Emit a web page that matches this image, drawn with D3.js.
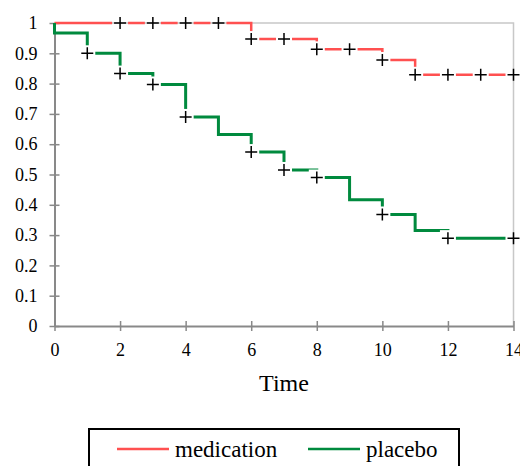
<!DOCTYPE html>
<html lang="en">
<head>
    <meta charset="UTF-8">
    <title>Survival</title>
    <script src="https://d3js.org/d3.v7.min.js"></script>
    <style>
        body { margin: 0; background: #fff; }
    </style>
</head>
<body>
<script>
    // step points (time, survival)
    const medTimes = [0, 6, 8, 10, 11, 14];
    const medSurv = [1, 0.947, 0.913, 0.878, 0.829, 0.829];
    const medCensor = [2, 3, 4, 5, 6, 7, 8, 9, 10, 11, 12, 13, 14];

    const plaTimes = [0, 0, 1, 2, 3, 4, 5, 6, 7, 8, 9, 10, 11, 12, 14];
    const plaSurv = [1, 0.967, 0.9, 0.833, 0.797, 0.69, 0.632, 0.574, 0.515, 0.49, 0.417, 0.368, 0.315, 0.29, 0.29];
    const plaCensor = [1, 2, 3, 4, 6, 7, 8, 10, 12, 14];

    const xTicks = [0, 2, 4, 6, 8, 10, 12, 14];
    const yTicks = [0, 0.1, 0.2, 0.3, 0.4, 0.5, 0.6, 0.7, 0.8, 0.9, 1];

    const series = [
        {name: 'medication', color: '#ff5050', width: 2.5, times: medTimes, surv: medSurv, censor: medCensor},
        {name: 'placebo', color: '#008a3e', width: 3, times: plaTimes, surv: plaSurv, censor: plaCensor}
    ];

    const FONT = '"Liberation Serif", "DejaVu Serif", serif';
    const W = 520, H = 466;
    const svg = d3.select('body').append('svg').attr('width', W).attr('height', H)
        .attr('font-family', FONT);

    const x = d3.scaleLinear().domain([0, 14]).range([54.5, 513.5]);
    const y = d3.scaleLinear().domain([0, 1]).range([326, 23]);

    // plot border (top/right light)
    svg.append('path')
        .attr('d', `M${x(0)},${y(1)}H${x(14)}V${y(0)}`)
        .attr('fill', 'none').attr('stroke', '#c8c8c8').attr('stroke-width', 1.5);

    // axes
    const xAxis = svg.append('g').attr('transform', `translate(0,${y(0)})`)
        .call(d3.axisBottom(x).tickValues(xTicks).tickSize(0).tickPadding(17));
    const yAxis = svg.append('g').attr('transform', `translate(${x(0)},0)`)
        .call(d3.axisLeft(y).tickValues(yTicks).tickFormat(d3.format('~g')).tickSize(0).tickPadding(17));
    [xAxis, yAxis].forEach(g => {
        g.attr('font-family', FONT).attr('font-size', 18);
        g.select('.domain').attr('stroke', '#898989').attr('stroke-width', 2);
        g.selectAll('text').attr('fill', '#000');
    });
    xAxis.selectAll('.tick').append('line').attr('y1', -5).attr('y2', 5)
        .attr('stroke', '#898989').attr('stroke-width', 1.5);
    yAxis.selectAll('.tick').append('line').attr('x1', -5).attr('x2', 5)
        .attr('stroke', '#898989').attr('stroke-width', 1.5);

    svg.append('text').attr('x', (x(0) + x(14)) / 2).attr('y', 391)
        .attr('text-anchor', 'middle').attr('font-size', 24).text('Time');

    // survival at a censor time
    const survAt = (s, t) => {
        let v = s.surv[0];
        s.times.forEach((tt, i) => { if (tt <= t) v = s.surv[i]; });
        return v;
    };

    // mask to leave small gaps around censor marks
    const mask = svg.append('defs').append('mask').attr('id', 'gaps')
        .attr('maskUnits', 'userSpaceOnUse').attr('x', 0).attr('y', 0).attr('width', W).attr('height', H);
    mask.append('rect').attr('width', W).attr('height', H).attr('fill', '#fff');
    series.forEach(s => {
        mask.selectAll(null).data(s.censor).join('rect')
            .attr('x', t => x(t) - 8).attr('y', t => y(survAt(s, t)) - 8)
            .attr('width', 16).attr('height', 16).attr('fill', '#000');
    });

    const line = d3.line().curve(d3.curveStepAfter);
    const lines = svg.append('g').attr('mask', 'url(#gaps)');
    series.forEach(s => {
        lines.append('path')
            .attr('d', line(s.times.map((t, i) => [x(t), y(s.surv[i])])))
            .attr('fill', 'none').attr('stroke', s.color).attr('stroke-width', s.width);
    });

    // censor marks
    series.forEach(s => {
        svg.append('g').selectAll('path').data(s.censor).join('path')
            .attr('d', t => {
                const cx = x(t), cy = y(survAt(s, t));
                return `M${cx - 6},${cy}H${cx + 6}M${cx},${cy - 6}V${cy + 6}`;
            })
            .attr('stroke', '#000').attr('stroke-width', 1.5);
    });

    // legend
    const leg = svg.append('g');
    leg.append('rect').attr('x', 89).attr('y', 429).attr('width', 370).attr('height', 60)
        .attr('fill', '#fff').attr('stroke', '#000').attr('stroke-width', 2);
    const legX = [117, 308];
    series.forEach((s, i) => {
        leg.append('line').attr('x1', legX[i]).attr('x2', legX[i] + 52)
            .attr('y1', 449).attr('y2', 449)
            .attr('stroke', s.color).attr('stroke-width', 2.5);
        leg.append('text').attr('x', legX[i] + 58).attr('y', 457)
            .attr('font-size', 23).text(s.name);
    });
</script>
</body>
</html>
